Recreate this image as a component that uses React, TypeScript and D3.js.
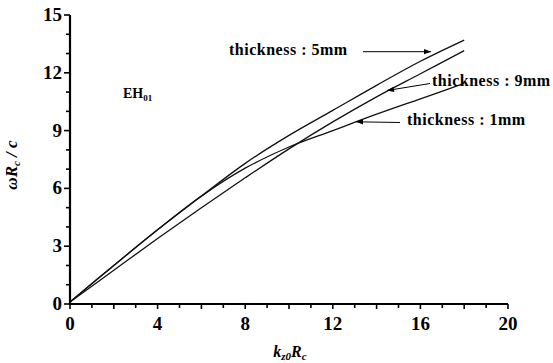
import React from "react";
import * as d3 from "d3";

const kz0Rc = [0, 2, 4, 6, 8, 10, 12, 14, 16, 18];
const thickness5mm = [0.1, 2.0, 3.85, 5.6, 7.3, 8.75, 10.05, 11.35, 12.6, 13.7];
const thickness9mm = [0.1, 1.75, 3.4, 5.0, 6.55, 8.05, 9.45, 10.75, 11.95, 13.15];
const thickness1mm = [0.1, 2.0, 3.85, 5.6, 7.05, 8.15, 9.0, 9.85, 10.65, 11.45];

const xTickLabels = [0, 4, 8, 12, 16, 20];
const yTickLabels = [0, 3, 6, 9, 12, 15];

const W = 553;
const H = 363;

export default function App() {
  const x = d3.scaleLinear().domain([0, 20]).range([70, 508]);
  const y = d3.scaleLinear().domain([0, 15]).range([304, 15]);
  const line = d3
    .line<number>()
    .x((_, i) => x(kz0Rc[i]))
    .y((d) => y(d))
    .curve(d3.curveCatmullRom.alpha(0.5));

  const series = [thickness5mm, thickness9mm, thickness1mm];
  const xMinor = d3.range(0, 21, 1);
  const yMinor = d3.range(0, 16, 1);
  const font = "'Liberation Serif', 'Times New Roman', serif";

  const arrowHead = (x1: number, y1: number, x2: number, y2: number) => {
    const a = Math.atan2(y2 - y1, x2 - x1);
    const L = 7, w = 2.6;
    const bx = x2 - L * Math.cos(a), by = y2 - L * Math.sin(a);
    const px = -Math.sin(a) * w, py = Math.cos(a) * w;
    return `M${x2},${y2}L${bx + px},${by + py}L${bx - px},${by - py}Z`;
  };

  const arrows = [
    [363, 51.7, 431, 51.7],
    [430, 83.5, 387, 90.5],
    [400, 122.5, 356, 121.8],
  ];

  return (
    <svg
      width={W}
      height={H}
      style={{ position: "absolute", left: 0, top: 0, background: "#fff" }}
      fontFamily={font}
    >
      <rect width={W} height={H} fill="#fff" />
      {series.map((s, i) => (
        <path key={i} d={line(s) || ""} fill="none" stroke="#111" strokeWidth={1.3} />
      ))}
      {/* axes */}
      <line x1={x(0)} x2={x(20)} y1={y(0)} y2={y(0)} stroke="#000" strokeWidth={2.2} />
      <line x1={x(0)} x2={x(0)} y1={y(0) + 1} y2={y(15)} stroke="#000" strokeWidth={2.2} />
      {xMinor.map((v) => (
        <line key={"xt" + v} x1={x(v)} x2={x(v)} y1={y(0)} y2={y(0) + (v % 2 === 0 ? 5 : 4)} stroke="#000" strokeWidth={1.6} />
      ))}
      {yMinor.map((v) => (
        <line key={"yt" + v} x1={x(0)} x2={x(0) - (v % 3 === 0 ? 6 : 4)} y1={y(v)} y2={y(v)} stroke="#000" strokeWidth={1.6} />
      ))}
      {xTickLabels.map((v) => (
        <text key={"xl" + v} x={x(v)} y={330} textAnchor="middle" fontSize={19} fontWeight="bold">
          {v}
        </text>
      ))}
      {yTickLabels.map((v) => (
        <text key={"yl" + v} x={62} y={y(v) + 6} textAnchor="end" fontSize={19} fontWeight="bold">
          {v}
        </text>
      ))}
      {/* axis titles */}
      <text x={290} y={357} textAnchor="middle" fontSize={16} fontWeight="bold" fontStyle="italic">
        k<tspan fontSize={11} dy={3}>z0</tspan>
        <tspan dy={-3}>R</tspan>
        <tspan fontSize={11} dy={3}>c</tspan>
      </text>
      <text
        transform="translate(17,165) rotate(-90)"
        textAnchor="middle"
        fontSize={17}
        fontWeight="bold"
        fontStyle="italic"
      >
        ωR<tspan fontSize={11} dy={3}>c</tspan>
        <tspan dy={-3}> / c</tspan>
      </text>
      {/* EH01 */}
      <text x={123} y={98} fontSize={14} fontWeight="bold">
        EH<tspan fontSize={9} dy={3}>01</tspan>
      </text>
      {/* annotations */}
      <text x={229} y={55} fontSize={16} fontWeight="bold" letterSpacing={0.5}>
        thickness : 5mm
      </text>
      <text x={432} y={86} fontSize={16} fontWeight="bold" letterSpacing={0.5}>
        thickness : 9mm
      </text>
      <text x={407} y={125} fontSize={16} fontWeight="bold" letterSpacing={0.5}>
        thickness : 1mm
      </text>
      {arrows.map((a, i) => (
        <g key={"ar" + i}>
          <line x1={a[0]} y1={a[1]} x2={a[2]} y2={a[3]} stroke="#000" strokeWidth={1} />
          <path d={arrowHead(a[0], a[1], a[2], a[3])} fill="#000" />
        </g>
      ))}
    </svg>
  );
}
